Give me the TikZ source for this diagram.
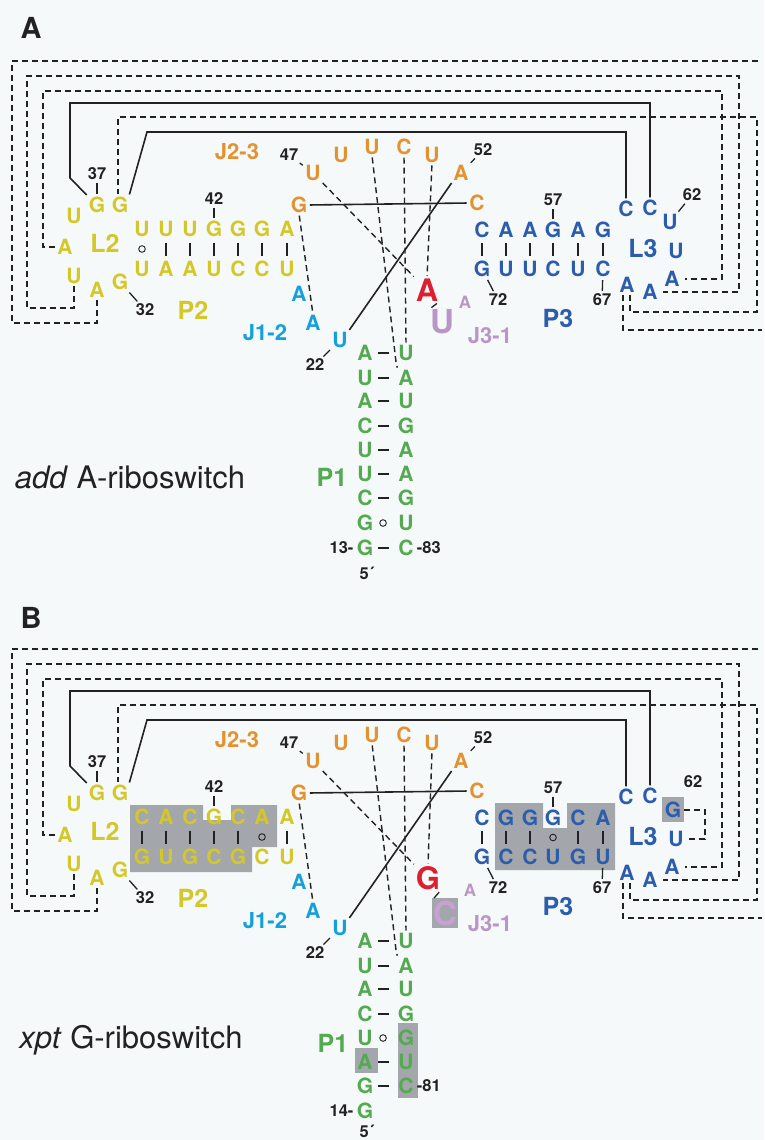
\documentclass[tikz,border=0pt]{standalone}
\usepackage{fontspec}
\setmainfont{TeX Gyre Heros}
\usetikzlibrary{calc}
\definecolor{cY}{RGB}{212,200,40}
\definecolor{cO}{RGB}{228,146,48}
\definecolor{cC}{RGB}{20,160,218}
\definecolor{cB}{RGB}{44,92,172}
\definecolor{cR}{RGB}{220,32,48}
\definecolor{cP}{RGB}{186,150,200}
\definecolor{cPl}{RGB}{200,160,212}
\definecolor{cG}{RGB}{84,170,80}
\definecolor{ink}{RGB}{34,34,34}
\definecolor{bgc}{RGB}{246,249,249}
\definecolor{boxc}{RGB}{163,166,170}
\tikzset{
 nt/.style={font=\bfseries\fontsize{21}{21}\selectfont, inner sep=0.5pt},
 num/.style={font=\bfseries\fontsize{16.5}{16.5}\selectfont, text=ink, inner sep=0.5pt},
 lab/.style={font=\bfseries\fontsize{25}{25}\selectfont, inner sep=0},
 jlab/.style={font=\bfseries\fontsize{22}{22}\selectfont, inner sep=0},
 plab/.style={font=\bfseries\fontsize{29}{29}\selectfont, text=ink, inner sep=0},
 rib/.style={font=\fontsize{31}{31}\selectfont, text=ink, inner sep=0},
 tert/.style={draw=ink, line width=1.4pt, dash pattern=on 6pt off 4pt, shorten <=2pt, shorten >=2pt},
 sol/.style={draw=ink, line width=1.6pt, shorten <=2pt, shorten >=2pt},
 bpbar/.style={draw=ink, line width=1.5pt},
 wob/.style={draw=ink, line width=0.9pt},
 ticky/.style={draw=ink, line width=1.3pt, shorten <=2.5pt, shorten >=2.5pt},
 big/.style={font=\bfseries\fontsize{31}{31}\selectfont, inner sep=0.5pt},
 bigger/.style={font=\bfseries\fontsize{33}{33}\selectfont, inner sep=0.5pt},
 small/.style={font=\bfseries\fontsize{17}{17}\selectfont, inner sep=0.5pt},
}
\newcommand\vbp[2]{\draw[bpbar] ($(#1)!0.5!(#2)+(0,-6.5)$) -- ($(#1)!0.5!(#2)+(0,6.5)$);}
\newcommand\vwob[2]{\draw[wob] ($(#1)!0.5!(#2)$) circle[radius=3.3pt];}
\newcommand\hbp[2]{\draw[bpbar] ($(#1)!0.45!(#2)+(-5.5,0)$) -- ($(#1)!0.45!(#2)+(5.5,0)$);}
\newcommand\hwob[2]{\draw[wob] ($(#1)!0.44!(#2)$) circle[radius=3.3pt];}
\newcommand\sharedpart[1]{%
 % L2 loop
 \node[nt,text=cY] (#1g32) at (120,282) {G};
 \node[nt,text=cY] (#1a33) at (97,290) {A};
 \node[nt,text=cY] (#1u34) at (74,276) {U};
 \node[nt,text=cY] (#1a35) at (65,247) {A};
 \node[nt,text=cY] (#1u36) at (74,216) {U};
 \node[nt,text=cY] (#1g37) at (97,205) {G};
 \node[nt,text=cY] (#1g38) at (120,205) {G};
 % J2-3
 \node[nt,text=cO] (#1g46) at (299,205) {G};
 \node[nt,text=cO] (#1u47) at (313,173) {U};
 \node[nt,text=cO] (#1u48) at (341,155) {U};
 \node[nt,text=cO] (#1u49) at (372,147) {U};
 \node[nt,text=cO] (#1c50) at (404,147) {C};
 \node[nt,text=cO] (#1u51) at (432,155) {U};
 \node[nt,text=cO] (#1a52) at (461,173) {A};
 \node[nt,text=cO] (#1c53) at (477,203) {C};
 % L3
 \node[nt,text=cB] (#1c60) at (626,209) {C};
 \node[nt,text=cB] (#1c61) at (650,208) {C};
 \node[nt,text=cB] (#1u63) at (676,251) {U};
 \node[nt,text=cB] (#1a64) at (672,279) {A};
 \node[nt,text=cB] (#1a65) at (650,292) {A};
 \node[nt,text=cB] (#1a66) at (627,285) {A};
 % J1-2
 \node[nt,text=cC] (#1a24) at (299,294) {A};
 \node[nt,text=cC] (#1a23) at (313,323) {A};
 \node[nt,text=cC] (#1u22) at (340,340) {U};
 % numbers
 \node[num] (#1n32) at (145,310) {32};
 \node[num] (#1n37) at (97,174) {37};
 \node[num] (#1n42) at (214,199) {42};
 \node[num] (#1n47) at (289,155) {47};
 \node[num] (#1n52) at (483,150) {52};
 \node[num] (#1n57) at (553,200) {57};
 \node[num] (#1n67) at (602,300) {67};
 \node[num] (#1n72) at (498,300) {72};
 \node[num] (#1n22) at (315,365) {22};
 % labels
 \node[lab,text=cY] (#1L2) at (105,243) {L2};
 \node[lab,text=cY] (#1P2) at (193,310) {P2};
 \node[jlab,text=cO] (#1J23) at (237,152) {J2-3};
 \node[jlab,text=cC] (#1J12) at (265,333) {J1-2};
 \node[jlab,text=cP] (#1J31) at (490,336) {J3-1};
 \node[lab,text=cB] (#1P3) at (558,318) {P3};
 \node[lab,text=cB] (#1L3) at (643,248) {L3};
 % ticks
 \draw[ticky] (#1n37) -- (#1g37);
 \draw[ticky] (#1n42) -- (#1t4);
 \draw[ticky] (#1n57) -- (#1s4);
 \draw[ticky] (#1q6) -- (#1n67);
 \draw[ticky] (#1n47) -- (#1u47);
 \draw[ticky] (#1a52) -- (#1n52);
 \draw[ticky] (#1g32) -- (#1n32);
 \draw[ticky] (#1q1) -- (#1n72);
 \draw[ticky] (#1u22) -- (#1n22);
 \draw[ticky] (#1lig.south east) -- (#1j74.north west);
 % frame connectors
 \coordinate (#1wl) at (764,61);
 \coordinate (#1wr) at (764,330);
 \draw[tert] (#1a33.south) |- (12,323) |- (#1wl);
 \draw[tert] (#1u34.south) |- (27,308) |- (739,76) |- ([xshift=3pt]#1a65.east);
 \draw[tert] (#1a35.west) -| (43,91) -- (722,91) |- ([xshift=3pt]#1a64.east);
 \draw[tert] ([xshift=3pt]#1a66.south) |- (757,312) -- (757,117) -| ([xshift=-2pt]#1g38.north);
 \draw[tert] ([xshift=-4pt]#1a66.south) |- (#1wr);
 \draw[sol] (#1g37.north west) -- (70,178) -- (70,103) -| (#1c61.north);
 \draw[sol] (#1g38.north east) -- (147,132) -| (#1c60.north);
 \draw[sol] (#1g46.east) -- (#1c53.west);
 \draw[sol] (#1u22.north east) -- (#1a52.south west);
 \draw[tert] (#1g46.south) -- (#1a23.north);
 \draw[tert] (#1u47.south east) -- (#1lig.north west);
 \draw[tert] (#1u51.south) -- (#1lig.north);
 \draw[tert] (#1c50.south) -- (#1r1.north);
 \draw[tert] (#1u49.south) -- (396,362) -- (#1r2.north west);
}
\begin{document}
\begin{tikzpicture}[x=1pt,y=-1pt]
\fill[bgc] (0,0) rectangle (764,1140);
\useasboundingbox (0,0) rectangle (764,1140);
% ---------------- Panel A ----------------
\begin{scope}
\node[plab] (labA) at (31,28) {A};
\foreach \x/\c [count=\i] in {142/U,166/U,190/U,214/G,238/G,262/G,287/A} \node[nt,text=cY] (at\i) at (\x,229) {\c};
\foreach \x/\c [count=\i] in {142/U,166/A,190/A,214/U,238/C,262/C,287/U} \node[nt,text=cY] (ab\i) at (\x,269) {\c};
\vwob{at1}{ab1}
\foreach \i in {2,3,4,5,6,7} {\vbp{at\i}{ab\i}}
\foreach \x/\c [count=\i] in {482/C,506/A,530/A,553/G,578/A,603/G} \node[nt,text=cB] (as\i) at (\x,230) {\c};
\foreach \x/\c [count=\i] in {482/G,506/U,530/U,553/C,578/U,603/C} \node[nt,text=cB] (aq\i) at (\x,269) {\c};
\foreach \i in {1,2,3,4,5,6} {\vbp{as\i}{aq\i}}
\foreach \y/\c [count=\i] in {353/A,378/U,401/A,426/C,450/U,474/U,498/C,523/G,548/G} \node[nt,text=cG] (al\i) at (365,\y) {\c};
\foreach \y/\c [count=\i] in {353/U,378/A,401/U,426/G,450/A,474/A,498/G,523/U,548/C} \node[nt,text=cG] (ar\i) at (406,\y) {\c};
\foreach \i in {1,2,3,4,5,6,7,9} {\hbp{al\i}{ar\i}}
\hwob{al8}{ar8}
\node[num,anchor=east] (an13) at ([xshift=-2pt]al9.west) {13-};
\node[num,anchor=west] (an83) at ([xshift=2pt]ar9.east) {-83};
\node[num] (a5p) at (367,573) {5´};
\node[big,text=cR] (alig) at (427,290) {A};
\node[bigger,text=cP] (aj74) at (442,322) {U};
\node[small,text=cP] (aj73) at (465,302) {A};
\node[nt,text=cB] (au62) at (670,222) {U};
\node[num] (an62) at (692,195) {62};
\draw[ticky] (au62) -- (an62);
\sharedpart{a}
\node[lab,text=cG] (aP1) at (332,477) {P1};
\node[rib] (atxt) at (130,477) {\textit{add} A-riboswitch};
\end{scope}
% ---------------- Panel B ----------------
\begin{scope}[yshift=-588pt]
\node[plab] (labB) at (31,30) {B};
\fill[boxc] (130,217) -- (203,217) -- (203,232) -- (231,232) -- (231,217) -- (277,217) -- (277,259) -- (252,259) -- (252,284) -- (130,284) -- cycle;
\fill[boxc] (495,215) -- (543,215) -- (543,240) -- (567,240) -- (567,215) -- (615,215) -- (615,282) -- (495,282) -- cycle;
\fill[boxc] (662,209) rectangle (684,234);
\fill[boxc] (432,310) rectangle (458,340);
\fill[boxc] (355,460) rectangle (378,485);
\fill[boxc] (398,435) rectangle (418,510);
\foreach \x/\c [count=\i] in {142/C,166/A,190/C,214/G,238/C,262/A,287/A} \node[nt,text=cY] (bt\i) at (\x,229) {\c};
\foreach \x/\c [count=\i] in {142/G,166/U,190/G,214/C,238/G,262/C,287/U} \node[nt,text=cY] (bb\i) at (\x,269) {\c};
\foreach \i in {1,2,3,4,5,7} {\vbp{bt\i}{bb\i}}
\vwob{bt6}{bb6}
\foreach \x/\c [count=\i] in {482/C,506/G,530/G,553/G,578/C,603/A} \node[nt,text=cB] (bs\i) at (\x,230) {\c};
\foreach \x/\c [count=\i] in {482/G,506/C,530/C,553/U,578/G,603/U} \node[nt,text=cB] (bq\i) at (\x,269) {\c};
\foreach \i in {1,2,3,5,6} {\vbp{bs\i}{bq\i}}
\vwob{bs4}{bq4}
\foreach \y/\c [count=\i] in {353/A,378/U,401/A,426/C,450/U,474/A,498/G,523/G} \node[nt,text=cG] (bl\i) at (365,\y) {\c};
\foreach \y/\c [count=\i] in {353/U,378/A,401/U,426/G,450/G,474/U,498/C} \node[nt,text=cG] (br\i) at (406,\y) {\c};
\foreach \i in {1,2,3,4,6,7} {\hbp{bl\i}{br\i}}
\hwob{bl5}{br5}
\node[num,anchor=east] (bn14) at ([xshift=-2pt]bl8.west) {14-};
\node[num,anchor=west] (bn81) at ([xshift=2pt]br7.east) {-81};
\node[num] (b5p) at (367,543) {5´};
\node[big,text=cR] (blig) at (428,290) {G};
\node[bigger,text=cPl] (bj74) at (445,325) {C};
\node[small,text=cP] (bj73) at (470,302) {A};
\node[nt,text=cB] (bg62) at (673,222) {G};
\node[num] (bn62) at (693,194) {62};
\sharedpart{b}
\draw[tert] (bg62.east) -| (705,236) |- (bu63.east);
\node[lab,text=cG] (bP1) at (333,455) {P1};
\node[rib] (btxt) at (131,452) {\textit{xpt} G-riboswitch};
\end{scope}
\end{tikzpicture}
\end{document}
